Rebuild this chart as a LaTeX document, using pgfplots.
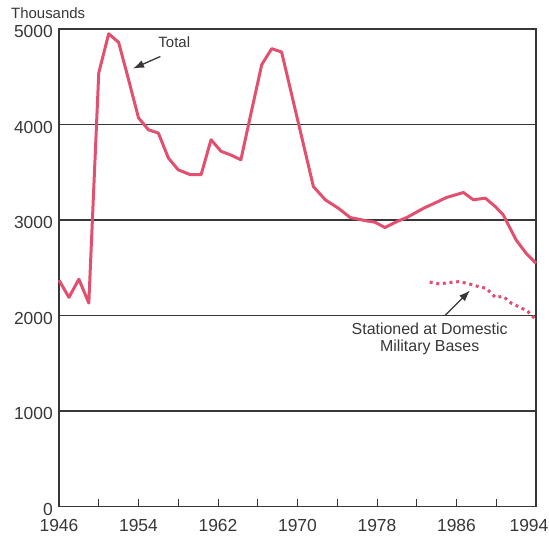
\documentclass[border=0pt]{standalone}
\usepackage{fontspec}
\setmainfont{Liberation Sans}
\usepackage{pgfplots}
\pgfplotsset{compat=1.18}
\usetikzlibrary{arrows.meta}
\definecolor{lineclr}{RGB}{226,80,112}
\definecolor{ink}{RGB}{55,55,55}
\begin{document}
\begin{tikzpicture}
\begin{axis}[
 scale only axis, width=477bp, height=477.5bp,
 at={(0,0)}, anchor=south west,
 xmin=1946, xmax=1994, ymin=0, ymax=5000,
 xtick={1946,1950,...,1990},
 xticklabels={1946,,1954,,1962,,1970,,1978,,1986,},
 extra x ticks={1994}, extra x tick labels={1994},
 extra x tick style={xticklabel style={xshift=-7bp}},
 ytick={0,1000,...,5000},
 xtick pos=bottom, ytick pos=left,
 ymajorgrids, grid style={ink, line width=1.2bp},
 axis line style={ink, line width=1.4bp},
 tick align=inside, major tick length=8bp,
 x tick style={ink, line width=1bp},
 y tick style={draw=none},
 ticklabel style={font=\fontsize{17.5}{20}\selectfont, text=ink, inner sep=0pt},
 yticklabel style={xshift=-6bp, yshift=-2.5bp},
 xticklabel style={yshift=-13bp},
 /pgf/number format/assume math mode=true,
 /pgf/number format/1000 sep={},
 clip=false,
]
\addplot[lineclr, line width=3bp, line join=round] coordinates {
(1946,2370) (1947,2190) (1948,2380) (1949,2130) (1950,4540) (1951,4950)
(1952,4860) (1953,4470) (1954,4070) (1955,3945) (1956,3910) (1957,3650)
(1958,3525) (1959.2,3475) (1960.3,3475) (1961.3,3840) (1962.3,3720)
(1963.4,3676) (1964.3,3630) (1965.4,4155) (1966.4,4626) (1967.4,4794)
(1968.4,4759) (1971.6,3350) (1972.8,3211) (1974.1,3124) (1975.3,3026)
(1977,2990) (1977.8,2977) (1978.8,2921) (1980,2984) (1981,3026)
(1982.7,3124) (1983.8,3176) (1985,3236) (1986.7,3288) (1987.7,3211)
(1988.9,3229) (1989.9,3141) (1990.7,3054) (1992,2791) (1993,2652) (1994,2547)
};
\addplot[lineclr, line width=3bp, dash pattern=on 3bp off 3.7bp] coordinates {
(1983.3,2350) (1984.3,2330) (1985.2,2345) (1986.3,2355) (1987.3,2330)
(1988.3,2300) (1989,2285) (1989.9,2190) (1990.7,2200) (1991.5,2130)
(1992.5,2080) (1993.2,2040) (1994,1955)
};
\node[anchor=west, text=ink, inner sep=0pt, font=\fontsize{15}{17}\selectfont]
  at ([xshift=-48bp, yshift=15.5bp]axis cs:1946,5000) {Thousands};
\node[text=ink, inner sep=0pt, font=\fontsize{15}{17}\selectfont]
  at (axis cs:1957.6,4864) {Total};
\draw[ink, line width=1.3bp, -{Latex[length=11bp,width=8bp]}]
  (axis cs:1956.2,4712) -- (axis cs:1953.45,4586);
\node[text=ink, inner sep=0pt, align=center, font=\fontsize{16}{16.5}\selectfont]
  at (axis cs:1983.3,1755) {Stationed at Domestic\\Military Bases};
\draw[ink, line width=1.3bp, -{Latex[length=11bp,width=8bp]}]
  (axis cs:1984.85,2000) -- (axis cs:1987.36,2262);
\end{axis}
\pgfresetboundingbox
\path[use as bounding box] (-59bp,-29.5bp) rectangle (490bp,506.5bp);
\end{tikzpicture}
\end{document}
